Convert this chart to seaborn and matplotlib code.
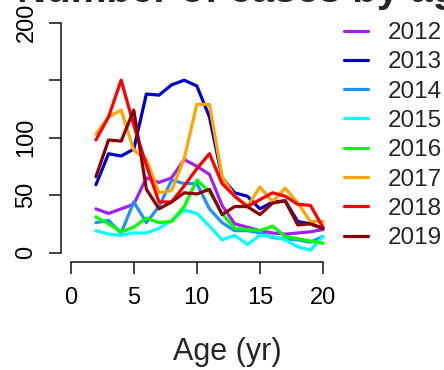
import numpy as np
import pandas as pd
import matplotlib
matplotlib.use("Agg")
import matplotlib.pyplot as plt
import seaborn as sns

ages = list(range(2, 21))
years = ["2012", "2013", "2014", "2015", "2016", "2017", "2018", "2019"]
colors = ["#A020F0", "#0000CD", "#1E90FF", "#00FFFF", "#00FF00", "#FFA500", "#FF0000", "#8B0000"]

y2012 = [38, 34, 38, 42, 65, 61, 65, 81, 75, 68, 41, 25, 22, 19, 17, 16, 17, 18, 20]
y2013 = [59, 86, 84, 90, 138, 137, 146, 150, 145, 118, 65, 52, 49, 38, 44, 45, 27, 25, 21]
y2014 = [26, 28, 17, 44, 26, 40, 63, 60, 60, 38, 26, 19, 19, 17, 13, 12, 11, 9, 14]
y2015 = [19, 16, 15, 17, 17, 21, 28, 37, 34, 23, 11, 15, 7, 15, 14, 11, 5, 2, 14]
y2016 = [31, 25, 18, 22, 30, 26, 27, 40, 63, 53, 34, 21, 20, 19, 23, 14, 12, 10, 8]
y2017 = [103, 118, 124, 89, 81, 52, 54, 82, 129, 129, 66, 49, 40, 57, 44, 56, 43, 27, 27]
y2018 = [98, 118, 150, 111, 76, 44, 44, 58, 73, 86, 60, 49, 40, 46, 52, 49, 42, 41, 22]
y2019 = [66, 98, 97, 124, 55, 38, 44, 52, 51, 55, 33, 40, 40, 33, 43, 45, 24, 25, 21]

series = [y2012, y2013, y2014, y2015, y2016, y2017, y2018, y2019]
xticks = [0, 5, 10, 15, 20]
yticks = [0, 50, 100, 150, 200]
yticklabels = ["0", "50", "100", "", "200"]

df = pd.DataFrame({
    "age": np.tile(ages, len(years)),
    "cases": np.concatenate(series),
    "year": np.repeat(years, len(ages)),
})

sns.set_style("white")
plt.rcParams["font.family"] = ["Liberation Sans", "DejaVu Sans"]

W, H = 444, 370
fig = plt.figure(figsize=(W / 100, H / 100), dpi=100)
L, R, T, B = 60.6, 333.1, 13.6, 261.7
ax = fig.add_axes([L / W, 1 - B / H, (R - L) / W, (B - T) / H])

sns.lineplot(data=df, x="age", y="cases", hue="year", palette=colors,
             linewidth=2.3, ax=ax, legend=True)

ax.set_xlim(-0.8, 20.8)
ax.set_ylim(-8, 208)
for s in ["top", "right"]:
    ax.spines[s].set_visible(False)
ax.spines["left"].set_bounds(0, 200)
ax.spines["bottom"].set_bounds(0, 20)
for s in ["left", "bottom"]:
    ax.spines[s].set_linewidth(1.1)
    ax.spines[s].set_color("#111111")

ax.set_xticks(xticks)
ax.set_yticks(yticks)
ax.set_yticklabels(yticklabels, rotation=90, va="center")
ax.tick_params(axis="both", direction="out", length=8.6, width=1.1,
               color="#111111", labelsize=17, labelcolor="black",
               bottom=True, left=True)
ax.tick_params(axis="x", pad=9.5)
ax.tick_params(axis="y", pad=8)

ax.set_ylabel("")
ax.set_xlabel("Age (yr)", fontsize=22)
ax.xaxis.set_label_coords((227.5 - L) / (R - L), -(352 - B) / (B - T))
ax.xaxis.label.set_va("center")

handles, labels = ax.get_legend_handles_labels()
ax.legend(handles, labels, loc="upper left", frameon=False, fontsize=17.5,
          bbox_to_anchor=(344 / W, 1 - 22 / H), bbox_transform=fig.transFigure,
          borderaxespad=0, borderpad=0, handlelength=1.0, handletextpad=0.8,
          labelspacing=0.30, title=None)

fig.text(17 / W, 1 - 2 / H, "Number of cases by age", fontsize=29,
         fontweight="bold", ha="left", va="baseline")

fig.savefig("out.png", dpi=100)
